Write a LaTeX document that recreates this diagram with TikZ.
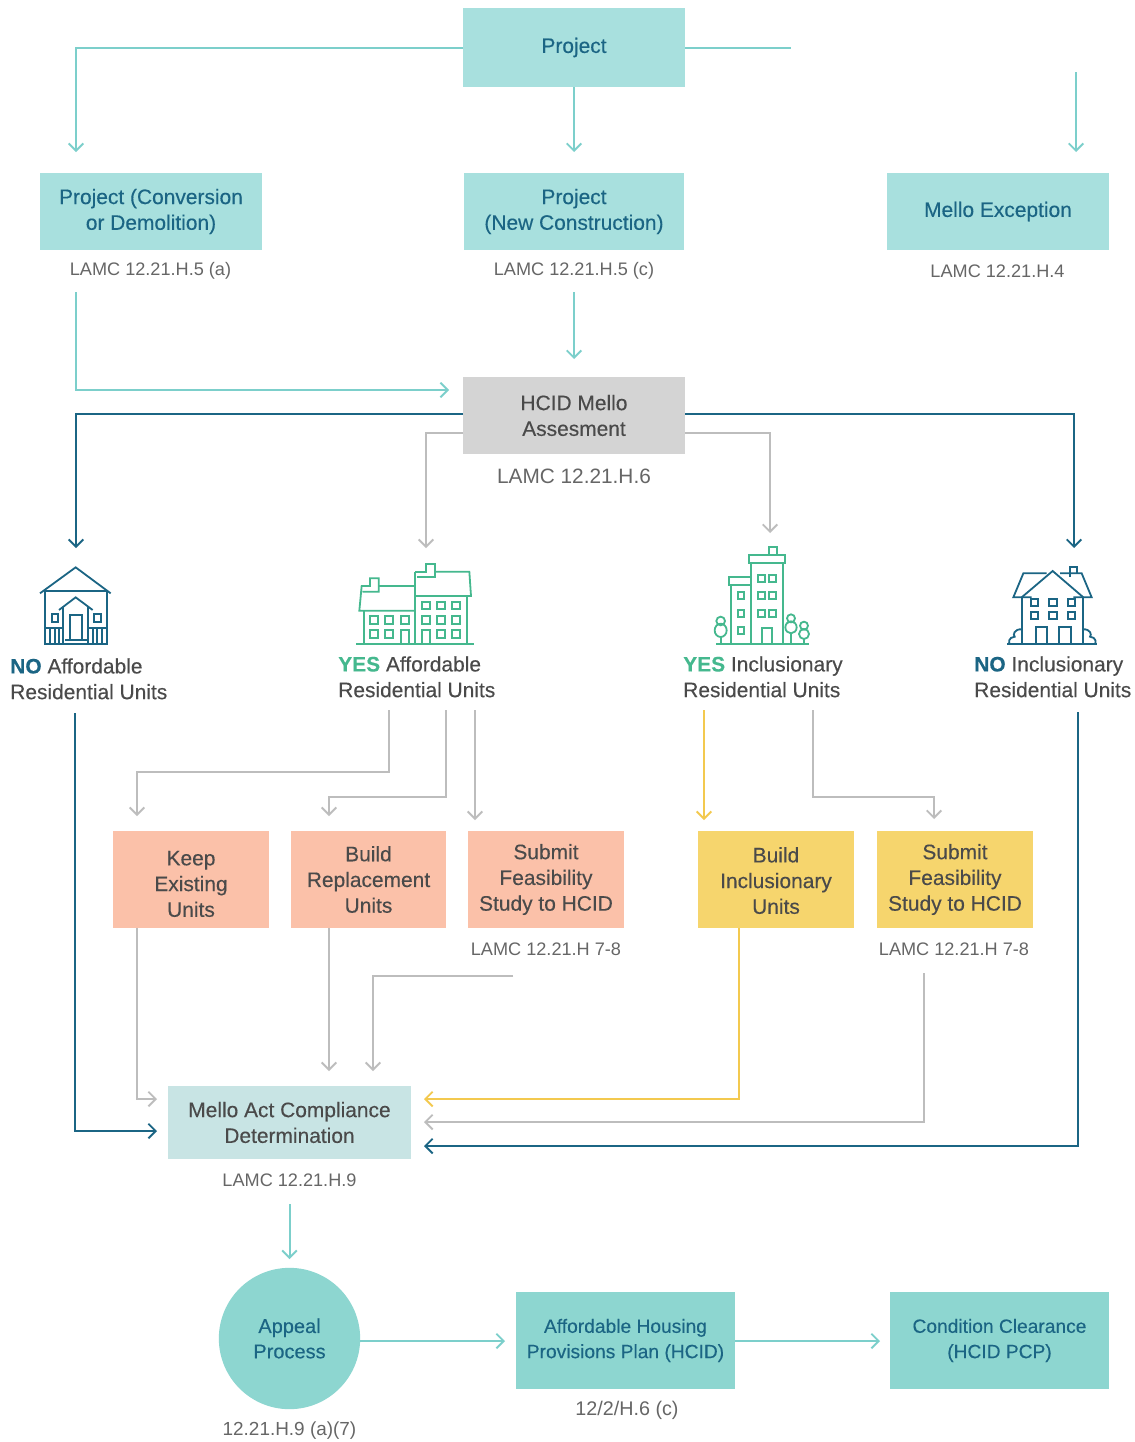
\documentclass[tikz,border=0pt]{standalone}
\usepackage{fontspec}
\setmainfont{Liberation Sans}
\newfontfamily\medfam{Liberation Sans}[FakeBold=0.25]
\usetikzlibrary{arrows.meta}
\definecolor{cteal}{HTML}{7CCFCB}
\definecolor{cdark}{HTML}{1B6584}
\definecolor{cgray}{HTML}{BDBDBD}
\definecolor{cyel}{HTML}{F3C94F}
\definecolor{lteal}{HTML}{A8E0DE}
\definecolor{mteal}{HTML}{8DD6D0}
\definecolor{pteal}{HTML}{C8E4E4}
\definecolor{lgray}{HTML}{D4D4D4}
\definecolor{salm}{HTML}{FBC1A9}
\definecolor{yelb}{HTML}{F6D56D}
\definecolor{ygreen}{HTML}{45B88E}
\definecolor{tdark}{HTML}{4A4A4A}
\definecolor{tlab}{HTML}{666666}
\newcommand\bigfnt{\medfam\fontsize{15.7pt}{19.3pt}\selectfont}
\newcommand\midfnt{\medfam\fontsize{15pt}{19pt}\selectfont}
\newcommand\lastfnt{\medfam\fontsize{14.4pt}{19pt}\selectfont}
\newcommand\labfnt{\fontsize{13.6pt}{16pt}\selectfont}
\newcommand\bx[6]{\node[#2,minimum width={(#5-#3)*0.75pt},minimum height={(#6-#4)*0.75pt}] (#1) at ({(#3+#5)/2},{(#4+#6)/2})}
\tikzset{
  x=0.75pt,y=-0.75pt,
  boxn/.style={inner sep=0pt,align=center,text=cdark,font=\bigfnt},
  boxk/.style={inner sep=0pt,align=center,text=tdark,font=\bigfnt},
  tealb/.style={boxn,fill=lteal},
  grayb/.style={boxk,fill=lgray},
  salb/.style={boxk,fill=salm},
  yelbx/.style={boxk,fill=yelb},
  mellob/.style={boxk,fill=pteal},
  endb/.style={inner sep=0pt,align=center,text=cdark,font=\lastfnt,fill=mteal},
  lab/.style={inner sep=0pt,align=center,text=tlab,font=\labfnt},
  head/.style={inner sep=0pt,align=left,text=tdark,font=\bigfnt,anchor=north west},
  conn/.style={line width=1.5pt,-{Straight Barb[length=5.5pt,width=11pt,line width=1.4pt]},rounded corners=0pt},
  ct/.style={conn,draw=cteal},
  cd/.style={conn,draw=cdark},
  cg/.style={conn,draw=cgray},
  cy/.style={conn,draw=cyel},
  icon/.style={line width=1.35pt,line join=miter},
}
\begin{document}
\begin{tikzpicture}
\useasboundingbox (0,0) rectangle (1135,1442);
\fill[white] (0,0) rectangle (1135,1442);
% boxes
\bx{proj}{tealb}{463}{8}{685}{87} {Project};
\bx{pc}{tealb}{40}{173}{262}{250} {Project (Conversion\\or Demolition)};
\bx{pn}{tealb}{464}{173}{684}{250} {Project\\(New Construction)};
\bx{me}{tealb}{887}{173}{1109}{250} {Mello Exception};
\bx{hcid}{grayb}{463}{377}{685}{454} {HCID Mello\\Assesment};
\bx{keep}{salb}{113}{831}{269}{928} {\rule{0pt}{17.5pt}Keep\\Existing\\Units};
\bx{rep}{salb}{291}{831}{446}{928} {Build\\Replacement\\Units};
\bx{feas}{salb}{468}{831}{624}{928} {Submit\\Feasibility\\Study to HCID};
\bx{inc}{yelbx}{698}{831}{854}{928} {\rule{0pt}{13pt}Build\\Inclusionary\\Units};
\bx{feasb}{yelbx}{877}{831}{1033}{928} {Submit\\Feasibility\\Study to HCID};
\bx{mello}{mellob}{168}{1086}{411}{1159} {Mello Act Compliance\\Determination};
\node[circle,fill=mteal,minimum size=106pt,inner sep=0pt,align=center,text=cdark,font=\midfnt] (appeal) at (289.5,1338.5) {Appeal\\Process};
\bx{ahp}{endb}{516}{1292}{735}{1389} {Affordable Housing\\Provisions Plan (HCID)};
\bx{cc}{endb}{890}{1292}{1109}{1389} {Condition Clearance\\(HCID PCP)};
% labels
\node[lab] (l1) at (150.5,271) {LAMC 12.21.H.5 (a)};
\node[lab] (l2) at (574,271) {LAMC 12.21.H.5 (c)};
\node[lab] (l3) at (997.5,271) {LAMC 12.21.H.4};
\node[lab,font=\fontsize{15.6pt}{18pt}\selectfont] (l4) at (574,476) {LAMC 12.21.H.6};
\node[lab] (l5) at (546,949) {LAMC 12.21.H 7-8};
\node[lab] (l6) at (954,949) {LAMC 12.21.H 7-8};
\node[lab] (l7) at (289.5,1180) {LAMC 12.21.H.9};
\node[lab,font=\fontsize{14.2pt}{18pt}\selectfont] (l8) at (289.5,1431) {12.21.H.9 (a)(7)};
\node[lab,font=\fontsize{14.8pt}{18pt}\selectfont] (l9) at (627,1410) {12/2/H.6 (c)};
% heads
\node[head] (h1) at (10,658) {\textcolor{cdark}{\textbf{NO}} Affordable\\Residential Units};
\node[head] (h2) at (338,656) {\textcolor{ygreen}{\textbf{YES}} Affordable\\Residential Units};
\node[head] (h3) at (683,656) {\textcolor{ygreen}{\textbf{YES}} Inclusionary\\Residential Units};
\node[head] (h4) at (974,656) {\textcolor{cdark}{\textbf{NO}} Inclusionary\\Residential Units};
% coordinates
\coordinate (a1) at (76,152);
\coordinate (a2) at (574,152);
\coordinate (free1) at (791,47.5);
\coordinate (free2s) at (1076,72);
\coordinate (free2e) at (1076,152);
\coordinate (b1s) at (76,292);
\coordinate (b1e) at (449,390);
\coordinate (b2s) at (574,292);
\coordinate (b2e) at (574,359);
\coordinate (c1w) at (463,414);
\coordinate (c1e) at (76,548);
\coordinate (c2w) at (685,414);
\coordinate (c2e) at (1074,548);
\coordinate (c3w) at (463,433);
\coordinate (c3e) at (426,548);
\coordinate (c4w) at (685,433);
\coordinate (c4e) at (770,533);
\coordinate (d1s) at (389,710);
\coordinate (d1e) at (137,816);
\coordinate (d2s) at (446,710);
\coordinate (d2e) at (329,816);
\coordinate (d3s) at (475,710);
\coordinate (d3e) at (475,820);
\coordinate (d4s) at (704,710);
\coordinate (d4e) at (704,820);
\coordinate (d5s) at (813,710);
\coordinate (d5e) at (934,819);
\coordinate (e1s) at (137,928);
\coordinate (e1e) at (157,1099);
\coordinate (e2s) at (329,928);
\coordinate (e2e) at (329,1071);
\coordinate (e3s) at (513,976);
\coordinate (e3e) at (373,1071);
\coordinate (e4s) at (739,928);
\coordinate (e4e) at (424,1099);
\coordinate (e5s) at (924,973);
\coordinate (e5e) at (424,1122);
\coordinate (e6s) at (1078,712);
\coordinate (e6e) at (424,1146);
\coordinate (e7s) at (75,713);
\coordinate (e7e) at (157,1131);
\coordinate (f1s) at (289.5,1204);
\coordinate (f1e) at (289.5,1259);
\coordinate (f2s) at (360,1341);
\coordinate (f2e) at (505,1341);
\coordinate (f3s) at (735,1341);
\coordinate (f3e) at (880,1341);
% connectors
\draw[ct] (proj.west) -| (a1);
\draw[ct] (proj.south) -- (a2);
\draw[line width=1.5pt,cteal] (proj.east) -- (free1);
\draw[ct] (free2s) -- (free2e);
\draw[ct] (b1s) |- (b1e);
\draw[ct] (b2s) -- (b2e);
\draw[cd] (c1w) -| (c1e);
\draw[cd] (c2w) -| (c2e);
\draw[cg] (c3w) -| (c3e);
\draw[cg] (c4w) -| (c4e);
\draw[cg] (d1s) |- (263,772) -| (d1e);
\draw[cg] (d2s) |- (388,797) -| (d2e);
\draw[cg] (d3s) -- (d3e);
\draw[cy] (d4s) -- (d4e);
\draw[cg] (d5s) |- (873,797) -| (d5e);
\draw[cg] (e1s) |- (e1e);
\draw[cg] (e2s) -- (e2e);
\draw[cg] (e3s) -| (e3e);
\draw[cy] (e4s) |- (e4e);
\draw[cg] (e5s) |- (e5e);
\draw[cd] (e6s) |- (e6e);
\draw[cd] (e7s) |- (e7e);
\draw[ct] (f1s) -- (f1e);
\draw[ct] (f2s) -- (f2e);
\draw[ct] (f3s) -- (f3e);
% icon 1
\begin{scope}[shift={(0,540)},x=0.25pt,y=-0.25pt,icon,draw=cdark]
\draw (120,160) -- (227,82) -- (332,160);
\draw (132,152) -- (322,152);
\draw (135,152) -- (135,313) -- (320,313) -- (320,152);
\draw (177,210) -- (227,172) -- (278,210);
\draw (190,200) -- (190,313);
\draw (265,200) -- (265,313);
\draw (210,300) -- (210,225) -- (245,225) -- (245,300);
\draw (195,300) -- (262,300);
\draw (155,222) rectangle (175,247);
\draw (282,222) rectangle (302,247);
\draw (135,265) -- (190,265);
\draw (265,265) -- (320,265);
\foreach \v in {150,165,178,278,292,306} \draw (\v,265) -- (\v,313);
\end{scope}
% icon 2
\begin{scope}[shift={(0,540)},x=0.25pt,y=-0.25pt,icon,draw=ygreen]
\draw (1068,312) -- (1422,312);
\draw (1245,212) -- (1078,212) -- (1085,138) -- (1110,138) -- (1110,115) -- (1136,115) -- (1136,155) -- (1088,155);
\draw (1136,138) -- (1245,138);
\draw (1245,168) -- (1413,168) -- (1408,95) -- (1304,95);
\draw (1304,95) -- (1304,72) -- (1278,72) -- (1278,95) -- (1245,95);
\draw (1304,95) -- (1304,112) -- (1250,112);
\draw (1092,212) -- (1092,312);
\draw (1245,95) -- (1245,312);
\draw (1400,168) -- (1400,312);
\foreach \xx in {1265,1312,1357} {
  \draw (\xx,185) rectangle +(24,23);
  \draw (\xx,228) rectangle +(24,23);
}
\foreach \xx in {1312,1357} \draw (\xx,270) rectangle +(24,23);
\draw (1265,312) -- (1265,270) -- (1290,270) -- (1290,312);
\foreach \xx in {1110,1155,1202} \draw (\xx,228) rectangle +(24,23);
\foreach \xx in {1110,1155} \draw (\xx,270) rectangle +(24,23);
\draw (1202,312) -- (1202,270) -- (1227,270) -- (1227,312);
\end{scope}
% icon 3
\begin{scope}[shift={(660,540)},x=0.25pt,y=-0.25pt,icon,draw=ygreen]
\draw (168,312) -- (447,312);
\draw (272,68) -- (272,312);
\draw (370,68) -- (370,312);
\draw (266,44) rectangle (374,68);
\draw (328,22) rectangle (350,44);
\draw (214,135) -- (214,312);
\draw (272,110) -- (208,110) -- (208,135) -- (272,135);
\foreach \yy in {105,157,210} {
  \draw (295,\yy) rectangle +(19,20);
  \draw (328,\yy) rectangle +(19,20);
}
\foreach \yy in {157,210,262} \draw (234,\yy) rectangle +(19,20);
\draw (306,312) -- (306,265) -- (335,265) -- (335,312);
\draw (182,243) circle[radius=13];
\draw (182,271) ellipse[x radius=18,y radius=20];
\draw (182,291) -- (182,312);
\draw (393,235) circle[radius=12];
\draw (393,262) ellipse[x radius=17,y radius=18];
\draw (393,280) -- (393,312);
\draw (432,257) circle[radius=12];
\draw (432,282) circle[radius=15];
\draw (432,297) -- (432,312);
\end{scope}
% icon 4
\begin{scope}[shift={(660,540)},x=0.25pt,y=-0.25pt,icon,draw=cdark]
\draw (1042,313) -- (1310,313);
\draw (1086,172) -- (1086,313);
\draw (1268,172) -- (1268,313);
\draw (1085,172) -- (1178,93) -- (1270,172);
\draw (1115,172) -- (1060,172) -- (1090,100) -- (1160,100);
\draw (1240,172) -- (1295,172) -- (1265,100) -- (1200,100);
\draw (1230,110) -- (1230,82) -- (1252,82) -- (1252,100);
\foreach \xx in {1113,1168,1224} {
  \draw (\xx,178) rectangle +(22,20);
  \draw (\xx,217) rectangle +(22,20);
}
\draw (1128,313) -- (1128,260) -- (1162,260) -- (1162,313);
\draw (1197,313) -- (1197,260) -- (1232,260) -- (1232,313);
\draw (1086,268) .. controls (1062,266) and (1058,285) .. (1064,290) .. controls (1045,292) and (1045,308) .. (1050,313);
\draw (1268,268) .. controls (1292,266) and (1296,285) .. (1290,290) .. controls (1309,292) and (1309,308) .. (1304,313);
\end{scope}
\end{tikzpicture}
\end{document}
